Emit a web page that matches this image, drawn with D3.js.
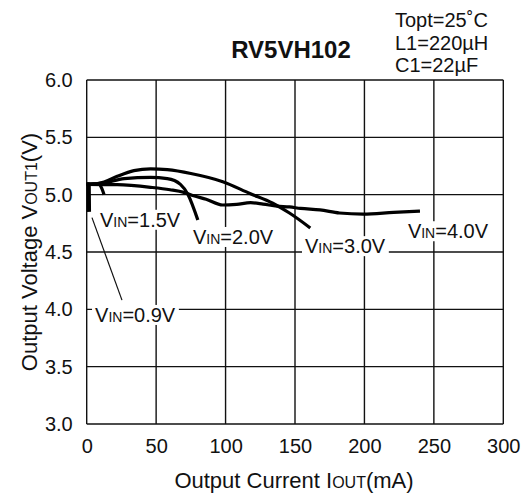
<!DOCTYPE html>
<html><head><meta charset="utf-8">
<script src="https://cdn.jsdelivr.net/npm/d3@7"></script>
<style>body{margin:0;background:#fff}svg{display:block}text{font-family:"Liberation Sans",Arial,sans-serif;fill:#111}</style>
</head><body><svg id="c" width="528" height="498"></svg>
<script>
const xTicks = [0, 50, 100, 150, 200, 250, 300];
const yTicks = [3.0, 3.5, 4.0, 4.5, 5.0, 5.5, 6.0];
const vin09 = [[0,5.09],[1.5,5.09],[1.7,4.85]];
const vin15 = [[0,5.09],[5,5.095],[9,5.09],[11,5.05],[12.5,5.0]];
const vin20 = [[0,5.09],[12,5.1],[27,5.14],[46,5.15],[58,5.14],[67.5,5.09],[73,5.0],[80,4.78]];
const vin30 = [[0,5.09],[7,5.095],[12.5,5.11],[22,5.16],[34,5.21],[46,5.225],[58,5.218],[75,5.185],[98,5.113],[117.5,5.01],[134,4.925],[146,4.84],[161,4.71]];
const vin40 = [[0,5.09],[22,5.087],[46,5.064],[60,5.043],[70,5.02],[77,4.99],[86,4.96],[98,4.91],[108,4.916],[118,4.93],[127,4.918],[137,4.9],[146,4.893],[154,4.88],[168,4.867],[182,4.84],[199,4.83],[221,4.845],[240,4.857]];
const series = [vin09, vin15, vin20, vin30, vin40];
const seriesNames = ["0.9", "1.5", "2.0", "3.0", "4.0"];
// label anchors in data units (left, baseline)
const labelAnchors = [[6,3.89],[9.6,4.72],[76.5,4.57],[157.2,4.49],[231.3,4.62]];
const leader = [[3.8,4.80],[25.4,4.08]];
const title = "RV5VH102";
const conditions = ["Topt=25˚C", "L1=220µH", "C1=22µF"];

const svg = d3.select("#c");
const x = d3.scaleLinear().domain([0,300]).range([86.7,503.3]);
const y = d3.scaleLinear().domain([3,6]).range([424,80]);

// grid
const g = svg.append("g");
g.selectAll("line.v").data(xTicks).join("line")
  .attr("x1",d=>x(d)).attr("x2",d=>x(d)).attr("y1",y(3)).attr("y2",y(6))
  .attr("stroke","#111").attr("stroke-width",1.4);
g.selectAll("line.h").data(yTicks).join("line")
  .attr("y1",d=>y(d)).attr("y2",d=>y(d)).attr("x1",x(0)).attr("x2",x(300))
  .attr("stroke","#111").attr("stroke-width",1.4);

// axes tick labels
const xAxis = d3.axisBottom(x).tickValues(xTicks).tickSize(0).tickPadding(10).tickFormat(d3.format("d"));
const xa = svg.append("g").attr("transform",`translate(0,${y(3)})`).call(xAxis);
xa.select(".domain").remove();
xa.selectAll("text").attr("font-size",20).attr("fill","#111").attr("font-family","Liberation Sans, Arial, sans-serif").attr("dy","0.93em");
const yAxis = d3.axisLeft(y).tickValues(yTicks).tickSize(0).tickPadding(14).tickFormat(d3.format(".1f"));
const ya = svg.append("g").attr("transform",`translate(${x(0)},0)`).call(yAxis);
ya.select(".domain").remove();
ya.selectAll("text").attr("font-size",20).attr("fill","#111").attr("font-family","Liberation Sans, Arial, sans-serif");

// curves
const line = d3.line().x(d=>x(d[0])).y(d=>y(d[1]));
series.forEach((s,i)=>{
  svg.append("path").datum(s)
    .attr("d", i===0 ? line.curve(d3.curveLinear)(s) : line.curve(d3.curveMonotoneX)(s))
    .attr("fill","none").attr("stroke","#000")
    .attr("stroke-width", i===0 ? 4 : 3.2).attr("stroke-linejoin","round");
});

// leader line
svg.append("line").attr("x1",x(leader[0][0])).attr("y1",y(leader[0][1]))
  .attr("x2",x(leader[1][0])).attr("y2",y(leader[1][1])).attr("stroke","#111").attr("stroke-width",1.2);

// labels
seriesNames.forEach((n,i)=>{
  const [lx,ly] = labelAnchors[i];
  const gg = svg.append("g");
  const bg = gg.append("rect").attr("fill","#fff");
  const t = gg.append("text").attr("x",x(lx)).attr("y",y(ly)).attr("font-size",20);
  t.append("tspan").text("V");
  t.append("tspan").attr("font-size",14).text("IN");
  t.append("tspan").text("="+n+"V");
  const b = t.node().getBBox();
  bg.attr("x",b.x-3).attr("y",b.y+1).attr("width",b.width+6).attr("height",b.height-2);
});

// title
svg.append("text").attr("x",291).attr("y",58).attr("text-anchor","middle")
  .attr("font-size",24).attr("font-weight","bold").text(title);
conditions.forEach((c,i)=>{
  svg.append("text").attr("x",395).attr("y",27+i*22.5).attr("font-size",20).text(c);
});

// axis titles
const xt = svg.append("text").attr("x",294).attr("y",488).attr("text-anchor","middle").attr("font-size",22);
xt.append("tspan").text("Output Current I");
xt.append("tspan").attr("font-size",16).text("OUT");
xt.append("tspan").text("(mA)");
const yt = svg.append("text").attr("transform","translate(37,252) rotate(-90)").attr("text-anchor","middle").attr("font-size",22);
yt.append("tspan").text("Output Voltage V");
yt.append("tspan").attr("font-size",16).text("OUT1");
yt.append("tspan").text("(V)");
</script></body></html>
